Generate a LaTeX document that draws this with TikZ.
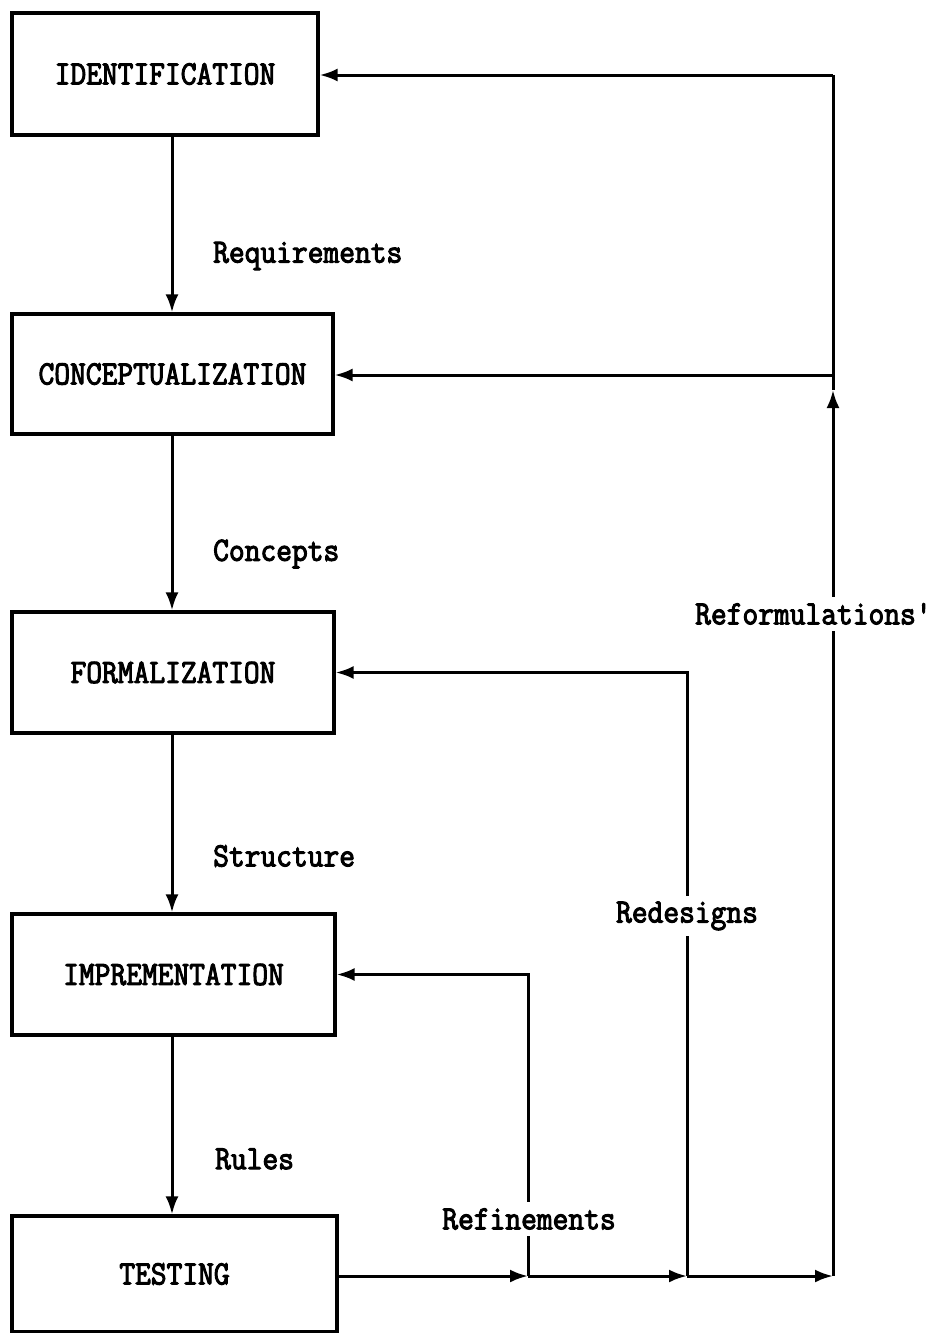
\documentclass[tikz,border=0pt]{standalone}
\usepackage{fontspec}
\newfontfamily\tw{Latin Modern Mono}[FakeStretch=0.9, FakeBold=3]
\usetikzlibrary{arrows.meta}
\tikzset{
  stage/.style={draw, line width=3.2pt, rectangle, inner sep=0pt,
    font=\tw\fontsize{34}{40}\selectfont},
  flow/.style={line width=3pt, -{Latex[length=18pt,width=13pt]}},
  plain/.style={line width=3pt},
  tag/.style={font=\tw\fontsize{34}{40}\selectfont, inner sep=2pt},
  gap/.style={tag, fill=white, inner xsep=1pt, inner ysep=6pt}
}
\begin{document}
\begin{tikzpicture}[x=1pt,y=-1pt]
\useasboundingbox[fill=white] (0,0) rectangle (932,1333);

% stages
\node[stage, minimum width=306pt, minimum height=122pt] (ident)   at (165,74)    {IDENTIFICATION};
\node[stage, minimum width=321pt, minimum height=120pt] (concept) at (172.5,374) {CONCEPTUALIZATION};
\node[stage, minimum width=322pt, minimum height=121pt] (formal)  at (173,672.5) {FORMALIZATION};
\node[stage, minimum width=323pt, minimum height=121pt] (impl)    at (173.5,974.5) {IMPREMENTATION};
\node[stage, minimum width=325pt, minimum height=116pt] (test)    at (174.5,1274) {TESTING};

% main chain
\coordinate (spine) at (172,0);
\draw[flow] (ident.south -| spine)   -- (concept.north -| spine);
\draw[flow] (concept.south -| spine) -- (formal.north -| spine);
\draw[flow] (formal.south -| spine)  -- (impl.north -| spine);
\draw[flow] (impl.south -| spine)    -- (test.north -| spine);

\node[tag, anchor=west] (lreq)  at (211,256)  {Requirements};
\node[tag, anchor=west] (lcon)  at (211,554)  {Concepts};
\node[tag, anchor=west] (lstr)  at (211,856)  {Structure};
\node[tag, anchor=west] (lrul)  at (213,1159) {Rules};

% feedback junctions
\coordinate (r1) at (528,1276);
\coordinate (r2) at (687,1276);
\coordinate (r3) at (833,1276);
\coordinate (up) at (833,390);
\coordinate (c3) at (833,375);
\coordinate (t3) at (833,75);

\draw[flow] (test.east |- r1) -- (r1);
\draw[flow] (r1) -- (r2);
\draw[flow] (r2) -- (r3);

% refinements
\draw[flow] (r1) -- (r1 |- impl.east) -- (impl.east);
% redesigns
\draw[flow] (r2) -- (r2 |- formal.east) -- (formal.east);
% reformulations
\draw[flow] (r3) -- (up);
\draw[plain] (up) -- (t3);
\draw[flow] (t3) -- (ident.east |- t3);
\draw[flow] (c3) -- (concept.east |- c3);

\node[gap] (lref) at (529,1219) {Refinements};
\node[gap] (lred) at (687,916)  {Redesigns};
\node[gap, anchor=west] (lfor) at (694,614) {Reformulations'};
\end{tikzpicture}
\end{document}
